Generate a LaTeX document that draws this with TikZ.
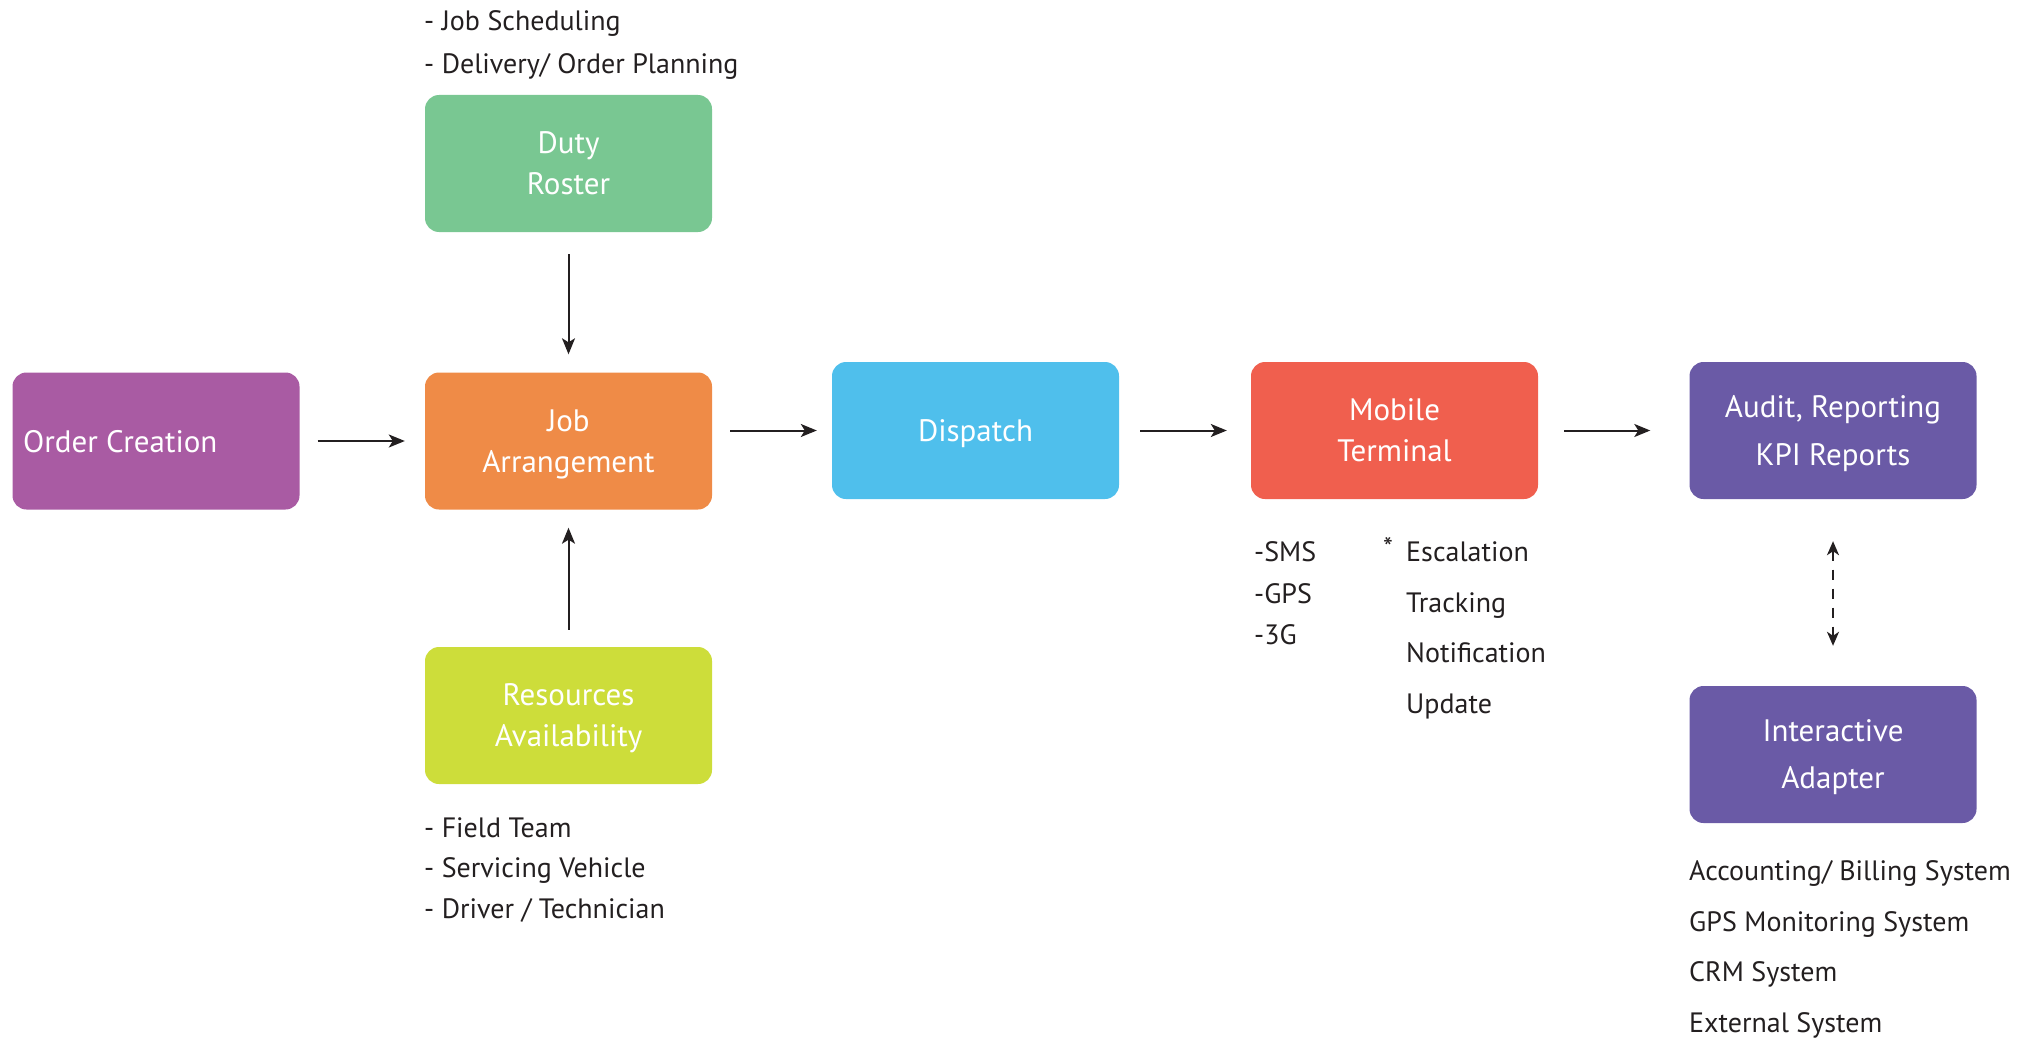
\documentclass[tikz,border=0pt]{standalone}
\usepackage{fontspec}
\setmainfont{PT Sans}
\usetikzlibrary{arrows.meta,calc}
\definecolor{cgreen}{HTML}{79C792}
\definecolor{corange}{HTML}{EF8B47}
\definecolor{cpurple}{HTML}{A95BA3}
\definecolor{clime}{HTML}{CDDD3A}
\definecolor{cblue}{HTML}{4FBFEC}
\definecolor{cred}{HTML}{F05F4E}
\definecolor{cviolet}{HTML}{6A5AA6}
\definecolor{ctext}{HTML}{231F20}
\tikzset{
  box/.style={rectangle, rounded corners=14pt, minimum width=287pt, minimum height=137pt,
    inner sep=0pt, text=white, align=center, text depth=0pt, font=\fontsize{31}{41}\selectfont},
  lbl/.style={anchor=base west, inner sep=0pt, text=ctext, font=\fontsize{28}{32}\selectfont},
  arr/.style={draw=ctext, line width=2pt, -{Stealth[length=16pt,width=13pt,inset=4pt]}},
}
\begin{document}
\begin{tikzpicture}[x=1pt,y=-1pt]
\useasboundingbox (0,0) rectangle (2033,1038);
% boxes
\node[box, fill=cgreen] (duty) at (568.5,163.5) {Duty\\Roster};
\node[box, fill=corange] (job) at (568.5,441) {Job\\Arrangement};
\node[box, fill=cpurple] (order) at (156,441) {};
\node[anchor=west, inner sep=0pt, text=white, text depth=0pt, font=\fontsize{31}{36}\selectfont] (ordertxt) at (23,441) {Order Creation};
\node[box, fill=clime] (res) at (568.5,715.5) {Resources\\Availability};
\node[box, fill=cblue] (disp) at (975.5,430.5) {Dispatch};
\node[box, fill=cred] (mob) at (1394.5,430.5) {Mobile\\Terminal};
\node[box, fill=cviolet, font=\fontsize{31}{48}\selectfont] (audit) at (1833,430.5) {Audit, Reporting\\KPI Reports};
\node[box, fill=cviolet, font=\fontsize{31}{47}\selectfont] (inter) at (1833,754.5) {Interactive\\Adapter};
% labels
\node[lbl] (l1) at (424,31) {- Job Scheduling};
\node[lbl] (l2) at (424,74) {- Delivery/ Order Planning};
\node[lbl] (l3) at (424,837) {- Field Team};
\node[lbl] (l4) at (424,877) {- Servicing Vehicle};
\node[lbl] (l5) at (424,918) {- Driver / Technician};
\node[lbl] (l6) at (1254,561) {-SMS};
\node[lbl] (l7) at (1254,603) {-GPS};
\node[lbl] (l8) at (1254,644) {-3G};
\node[lbl] (star) at (1383,557) {*};
\node[lbl] (l9) at (1406,561) {Escalation};
\node[lbl] (l10) at (1406,612) {Tracking};
\node[lbl] (l11) at (1406,662) {Notification};
\node[lbl] (l12) at (1406,713) {Update};
\node[lbl] (l13) at (1689,880) {Accounting/ Billing System};
\node[lbl] (l14) at (1689,931) {GPS Monitoring System};
\node[lbl] (l15) at (1689,981) {CRM System};
\node[lbl] (l16) at (1689,1032) {External System};
% connectors
\draw[arr, shorten <=18pt, shorten >=20pt] (order.east) -- (job.west);
\draw[arr, shorten <=22pt, shorten >=18pt] (duty.south) -- (job.north);
\draw[arr, shorten <=17pt, shorten >=18pt] (res.north) -- (job.south);
\draw[arr, shorten <=18pt, shorten >=15pt] (job.east |- disp.west) -- (disp.west);
\draw[arr, shorten <=21pt, shorten >=24pt] (disp.east) -- (mob.west);
\draw[arr, shorten <=26pt, shorten >=39pt] (mob.east) -- (audit.west);
\draw[draw=ctext, line width=2pt, dash pattern=on 10pt off 9pt,
  {Stealth[length=14pt,width=12pt,inset=4pt]}-{Stealth[length=14pt,width=12pt,inset=4pt]},
  shorten <=42pt, shorten >=40pt] (audit.south) -- (inter.north);
\end{tikzpicture}
\end{document}
